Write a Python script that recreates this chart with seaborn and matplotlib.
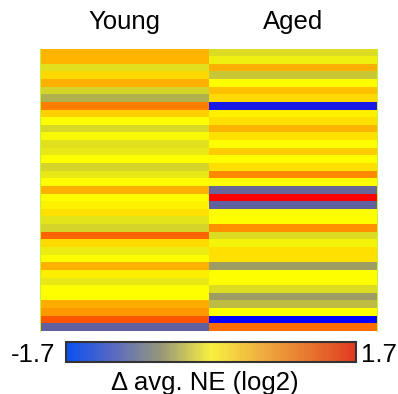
import matplotlib
matplotlib.use("Agg")
import matplotlib.pyplot as plt
from matplotlib.colors import LinearSegmentedColormap, Normalize
from matplotlib.cm import ScalarMappable
import numpy as np
import pandas as pd
import seaborn as sns

# Delta avg. NE (log2), one value per row, top to bottom
columns = ["Young", "Aged"]
young = [0.50, 0.50, -0.21, 0.26, 0.53, -0.29, -0.53, 0.85, 0.31, 0.00,
         -0.26, -0.05, -0.21, -0.15, 0.00, -0.29, -0.15, 0.00, 0.53, 0.00,
         0.09, 0.21, -0.18, -0.29, 1.03, 0.24, -0.13, 0.00, 0.53, 0.11,
         -0.15, 0.00, 0.00, 0.55, 0.69, 1.13, -1.06]
aged = [-0.23, -0.10, 0.53, -0.37, 0.00, 0.42, 0.24, -1.54, 0.10, 0.21,
        0.50, 0.21, 0.00, 0.34, 0.00, 0.21, 0.79, 0.00, -1.01, 1.70,
        -1.06, 0.00, 0.00, 0.74, -0.23, -0.07, 0.21, 0.21, -0.66, 0.00,
        0.00, -0.23, -0.66, -0.45, 0.00, -1.70, 0.98]
vmin, vmax = -1.7, 1.7
cbar_label = "\u0394 avg. NE (log2)"

sns.set_style("white")
plt.rcParams["font.family"] = ["Liberation Sans", "DejaVu Sans"]
plt.rcParams["text.color"] = "black"

heat_cmap = LinearSegmentedColormap.from_list(
    "heat", ["#0000ff", "#ffff00", "#ff0000"])
bar_cmap = LinearSegmentedColormap.from_list(
    "bar", ["#0a50f0", "#5a6ac0", "#9a9a78", "#f8f040", "#f0b040", "#e87830", "#e03a20"])

df = pd.DataFrame({"Young": young, "Aged": aged})[columns]

fig = plt.figure(figsize=(3.98, 3.94), dpi=100)
W, H = 398, 394
ax = fig.add_axes([40 / W, 1 - 331 / H, 337 / W, 282.5 / H])
sns.heatmap(df, ax=ax, cmap=heat_cmap, vmin=vmin, vmax=vmax, cbar=False,
            xticklabels=False, yticklabels=False)
for side in ["left", "right"]:
    ax.spines[side].set_visible(True)
    ax.spines[side].set_color("#c8f040")
    ax.spines[side].set_linewidth(0.8)

for i, name in enumerate(columns):
    fig.text((40 + 337 * (i + 0.5) / 2) / W, 1 - 29.5 / H, name,
             ha="center", va="baseline", fontsize=18.5)

cax = fig.add_axes([66 / W, 1 - 362 / H, 290 / W, 20 / H])
sm = ScalarMappable(norm=Normalize(vmin, vmax), cmap=bar_cmap)
cb = fig.colorbar(sm, cax=cax, orientation="horizontal")
cb.set_ticks([])
cb.outline.set_edgecolor("#333333")
cb.outline.set_linewidth(1.5)

fig.text(55 / W, 1 - 362 / H, f"{vmin:.1f}", ha="right", va="baseline", fontsize=18.5)
fig.text(361 / W, 1 - 362 / H, f"{vmax:.1f}", ha="left", va="baseline", fontsize=18.5)
fig.text(205 / W, 1 - 390 / H, cbar_label, ha="center", va="baseline", fontsize=18.5)

fig.savefig("out.png", dpi=100)
